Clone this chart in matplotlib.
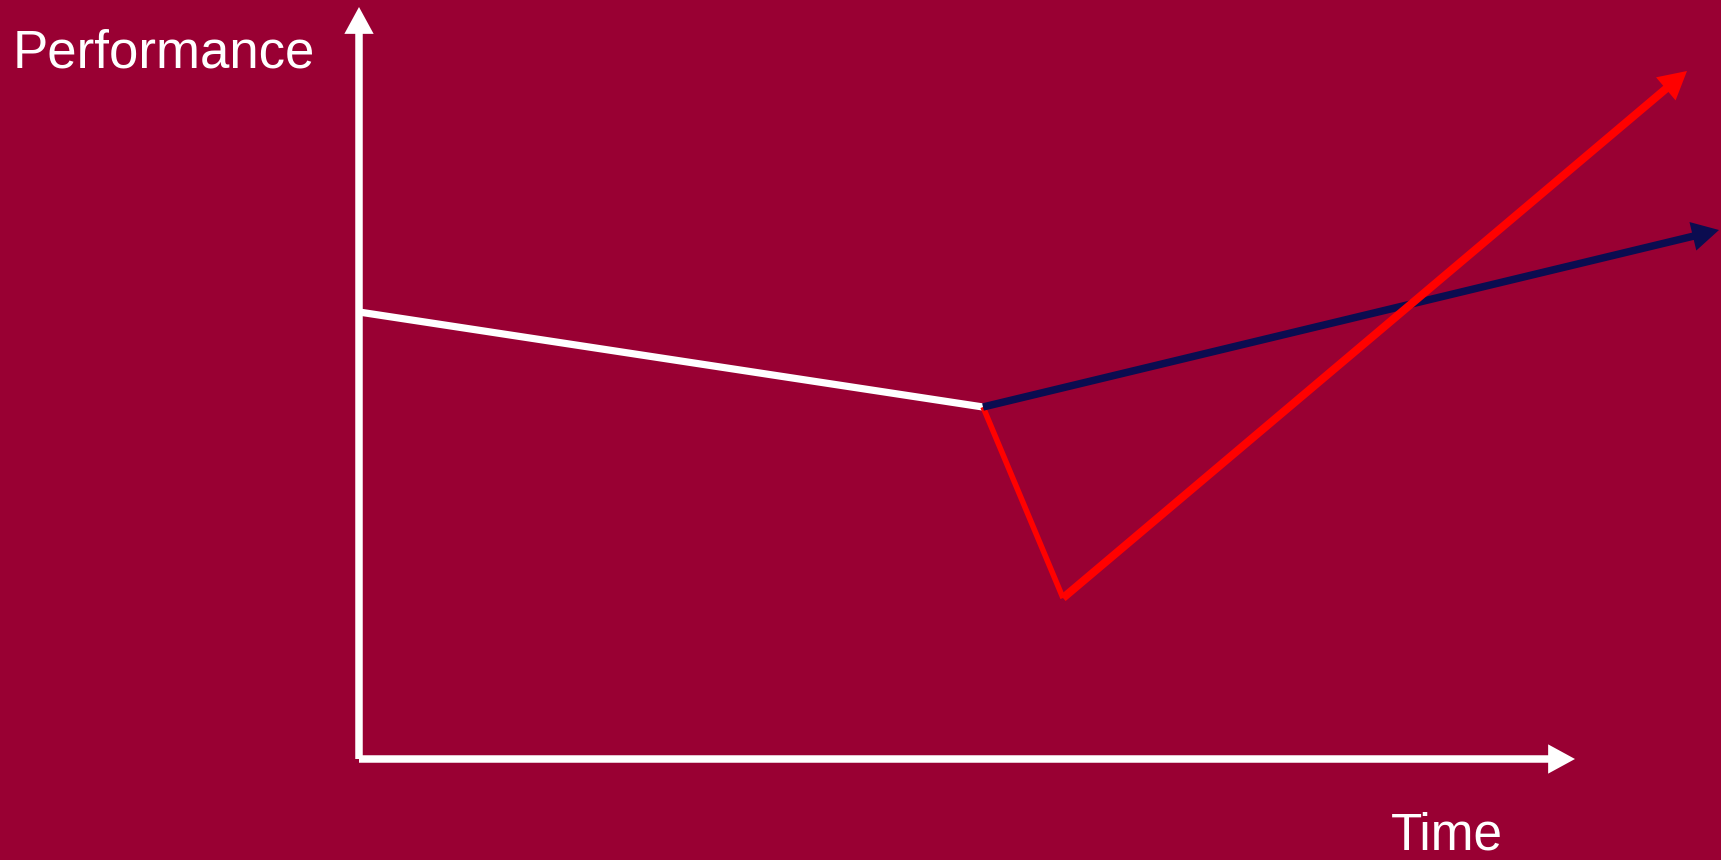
"""
Schematic: performance over time after a change -- steady path vs. dip-then-recover.
"""

import matplotlib.pyplot as plt

# conceptual values (time, performance), origin at the axis corner
axis_time = [0.0, 12.16]
axis_perf = [0.0, 7.52]

decline_time = [0.0, 6.24]
decline_perf = [4.47, 3.52]

steady_time = [6.24, 13.60]
steady_perf = [3.52, 5.29]

dip_time = [6.24, 7.04, 13.28]
dip_perf = [3.52, 1.61, 6.88]

BG = "#990033"
NAVY = "#0b0c50"
RED = "#ff0000"
WHITE = "#ffffff"


def arrow(ax, start, end, color, lw, scale=20):
    ax.annotate(
        "",
        xy=end,
        xytext=start,
        arrowprops=dict(
            arrowstyle="-|>,head_length=0.55,head_width=0.3",
            color=color,
            lw=lw,
            shrinkA=0,
            shrinkB=0,
            mutation_scale=scale,
            capstyle="butt",
            joinstyle="miter",
        ),
    )


fig = plt.figure(figsize=(17.21, 8.60), dpi=100)
fig.patch.set_facecolor(BG)
ax = fig.add_axes([0, 0, 1, 1])
ax.set_facecolor(BG)
ax.set_xlim(-3.59, 13.62)
ax.set_ylim(-1.01, 7.59)
ax.axis("off")

# axes arrows
arrow(ax, (axis_time[0], 0), (axis_time[1], 0), WHITE, 5.4)
arrow(ax, (0, axis_perf[0]), (0, axis_perf[1]), WHITE, 5.4)

# decline before the change
ax.plot(decline_time, decline_perf, color=WHITE, lw=5.2, solid_capstyle="butt")

# steady improvement
arrow(ax, (steady_time[0], steady_perf[0]), (steady_time[1], steady_perf[1]), NAVY, 5.4)

# dip then steep recovery
ax.plot(dip_time[:2], dip_perf[:2], color=RED, lw=4.0, solid_capstyle="butt")
arrow(ax, (dip_time[1], dip_perf[1]), (dip_time[2], dip_perf[2]), RED, 5.8)

ax.text(-3.46, 6.91, "Performance", color=WHITE, fontsize=38,
        family="Liberation Sans", ha="left", va="baseline")
ax.text(10.32, -0.90, "Time", color=WHITE, fontsize=37,
        family="Liberation Sans", ha="left", va="baseline")

fig.savefig("out.png", dpi=100, facecolor=BG)
